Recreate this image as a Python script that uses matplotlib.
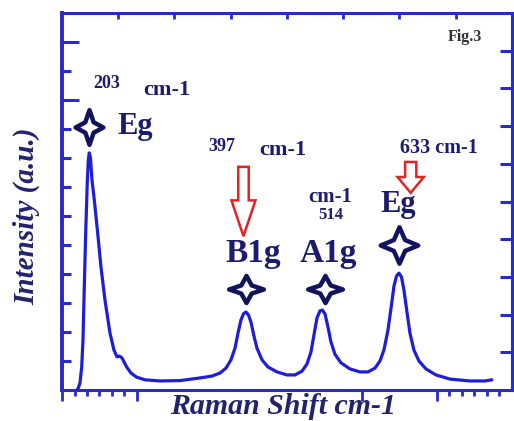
import numpy as np
import matplotlib
matplotlib.use("Agg")
import matplotlib.pyplot as plt
from matplotlib.path import Path
from matplotlib.patches import FancyArrow

# Raman spectrum (shift in cm-1, intensity a.u.)
shift = [187.0, 188.7, 191.0, 193.3, 195.0, 196.3, 198.6, 200.7, 202.1, 203.4,
         205.0, 207.0, 210.1, 214.6, 219.0, 224.3, 231.0, 236.3, 240.3, 243.7,
         247.0, 253.3, 259.0, 266.6, 277.7, 297.7, 324.3, 351.0, 367.0, 377.7,
         385.7, 392.3, 397.7, 401.7, 405.7, 409.0, 412.3, 415.7, 419.0, 423.0,
         427.0, 433.7, 441.7, 453.7, 467.0, 477.7, 487.0, 493.7, 499.0, 503.0,
         507.0, 511.0, 514.3, 517.7, 521.7, 525.7, 531.0, 539.0, 551.0, 564.3,
         575.0, 584.3, 591.0, 596.3, 601.7, 606.3, 609.7, 613.0, 616.3, 619.7,
         623.0, 627.0, 631.0, 636.3, 643.0, 652.3, 665.7, 684.3, 711.0, 731.0,
         740.3]
intensity = [0.000, 0.005, 0.019, 0.061, 0.133, 0.239, 0.416, 0.549, 0.610, 0.629,
             0.615, 0.557, 0.504, 0.416, 0.326, 0.239, 0.151, 0.106, 0.088, 0.090,
             0.085, 0.061, 0.045, 0.034, 0.027, 0.024, 0.025, 0.032, 0.037, 0.045,
             0.058, 0.080, 0.111, 0.151, 0.186, 0.202, 0.207, 0.199, 0.180, 0.143,
             0.111, 0.080, 0.061, 0.048, 0.040, 0.040, 0.050, 0.069, 0.101, 0.146,
             0.191, 0.210, 0.212, 0.202, 0.167, 0.127, 0.095, 0.072, 0.056, 0.048,
             0.048, 0.058, 0.077, 0.106, 0.159, 0.225, 0.276, 0.302, 0.310, 0.300,
             0.265, 0.207, 0.151, 0.106, 0.077, 0.056, 0.040, 0.029, 0.024, 0.024,
             0.027]

# peak markers
star_x = [203.0, 412.3, 517.7, 616.3]
star_y = [0.698, 0.268, 0.268, 0.385]

navy = "#1c1c6e"
blue = "#1e1ed8"
spine_col = "#2a2acc"
red = "#e52222"

plt.rcParams["font.family"] = ["Liberation Serif", "DejaVu Serif"]

fig = plt.figure(figsize=(5.14, 4.21), dpi=100)
ax = fig.add_axes([0.1206, 0.0736, 0.8754, 0.8955])

ax.plot(shift, intensity, color=blue, lw=2.3, solid_joinstyle="round",
        solid_capstyle="round", zorder=3)


def star_marker(sx, sy):
    r = 0.3
    pts = [(0, sy), (r * sx, r * sy), (sx, 0), (r * sx, -r * sy), (0, -sy),
           (-r * sx, -r * sy), (-sx, 0), (-r * sx, r * sy), (0, sy)]
    return Path(pts, [Path.MOVETO] + [Path.LINETO] * 7 + [Path.CLOSEPOLY])


# (x stretch, y stretch, size) for each star
star_style = [(0.8, 1.0, 25), (1.0, 0.78, 25), (1.0, 0.78, 25), (1.0, 0.97, 27)]
for x, y, (sx, sy, ms) in zip(star_x, star_y, star_style):
    ax.plot([x], [y], ls="none", marker=star_marker(sx, sy), ms=ms, mfc="white",
            mec="#12125e", mew=3.2, zorder=4)

# red hollow arrows
ax.add_patch(FancyArrow(409, 0.592, 0, -0.184, width=14, head_width=32,
                        head_length=0.095, length_includes_head=True,
                        fc="white", ec=red, lw=1.8, zorder=4))
ax.add_patch(FancyArrow(632, 0.605, 0, -0.082, width=15, head_width=35,
                        head_length=0.042, length_includes_head=True,
                        fc="white", ec=red, lw=1.8, zorder=4))

tk = dict(color=navy, fontweight="bold", ha="center", va="center")
ax.text(227, 0.814, "203", fontsize=13, **tk)
ax.text(307, 0.796, "cm-1", fontsize=16, **tk)
ax.text(265, 0.698, "Eg", fontsize=22, **tk)
ax.text(380, 0.645, "397", fontsize=13, **tk)
ax.text(461, 0.637, "cm-1", fontsize=16, **tk)
ax.text(670, 0.642, "633 cm-1", fontsize=14.5, **tk)
ax.text(525, 0.512, "cm-1", fontsize=15, **tk)
ax.text(526, 0.464, "514", fontsize=12, **tk)
ax.text(422, 0.363, "B1g", fontsize=24, **tk)
ax.text(522, 0.363, "A1g", fontsize=24, **tk)
ax.text(615, 0.491, "Eg", fontsize=22, **tk)
ax.text(704, 0.936, "Fig.3", fontsize=11.5, color="#333333", fontweight="bold",
        ha="center", va="center")

ax.set_xlim(167, 767)
ax.set_ylim(0, 1)

for s in ax.spines.values():
    s.set_color(spine_col)
    s.set_linewidth(2.2)
ax.spines["left"].set_linewidth(2.8)

# left ticks (inward) and bottom ticks (outward)
ax.set_yticks([10 / 13, 12 / 13])
ax.set_yticks([k / 13 for k in range(1, 12) if k != 10], minor=True)
ax.set_xticks([167, 267, 567, 667])
ax.set_xticks([183.7, 200.3, 217, 233.7, 250.3, 683.7, 700.3, 717, 733.7, 750.3],
              minor=True)
ax.tick_params(axis="y", which="major", direction="in", length=12, width=2.2,
               color=spine_col, labelleft=False, right=False)
ax.tick_params(axis="y", which="minor", direction="in", length=6.5, width=2.2,
               color=spine_col, right=False)
ax.tick_params(axis="x", which="major", direction="out", length=8, width=2,
               color=spine_col, labelbottom=False, top=False)
ax.tick_params(axis="x", which="minor", direction="out", length=4.5, width=2,
               color=spine_col, top=False)

# right and top ticks
axr = ax.twinx()
axr.set_ylim(0, 1)
axr.set_yticks([k / 10 for k in range(1, 10)])
axr.tick_params(axis="y", direction="in", length=8.5, width=2.2,
                color=spine_col, labelright=False)
axt = ax.twiny()
axt.set_xlim(167, 767)
axt.set_xticks([167 + 75 * k for k in range(1, 8)])
axt.tick_params(axis="x", direction="in", length=4, width=2,
                color=spine_col, labeltop=False)
for a in (axr, axt):
    for s in a.spines.values():
        s.set_visible(False)

fig.text(0.052, 0.487, "Intensity (a.u.)", rotation=90, fontsize=21,
         fontweight="bold", fontstyle="italic", color="#22226e",
         ha="center", va="center")
fig.text(0.55, 0.016, "Raman Shift cm-1", fontsize=21.5, fontweight="bold",
         fontstyle="italic", color="#22226e", ha="center", va="baseline")

fig.savefig("out.png", dpi=100)
